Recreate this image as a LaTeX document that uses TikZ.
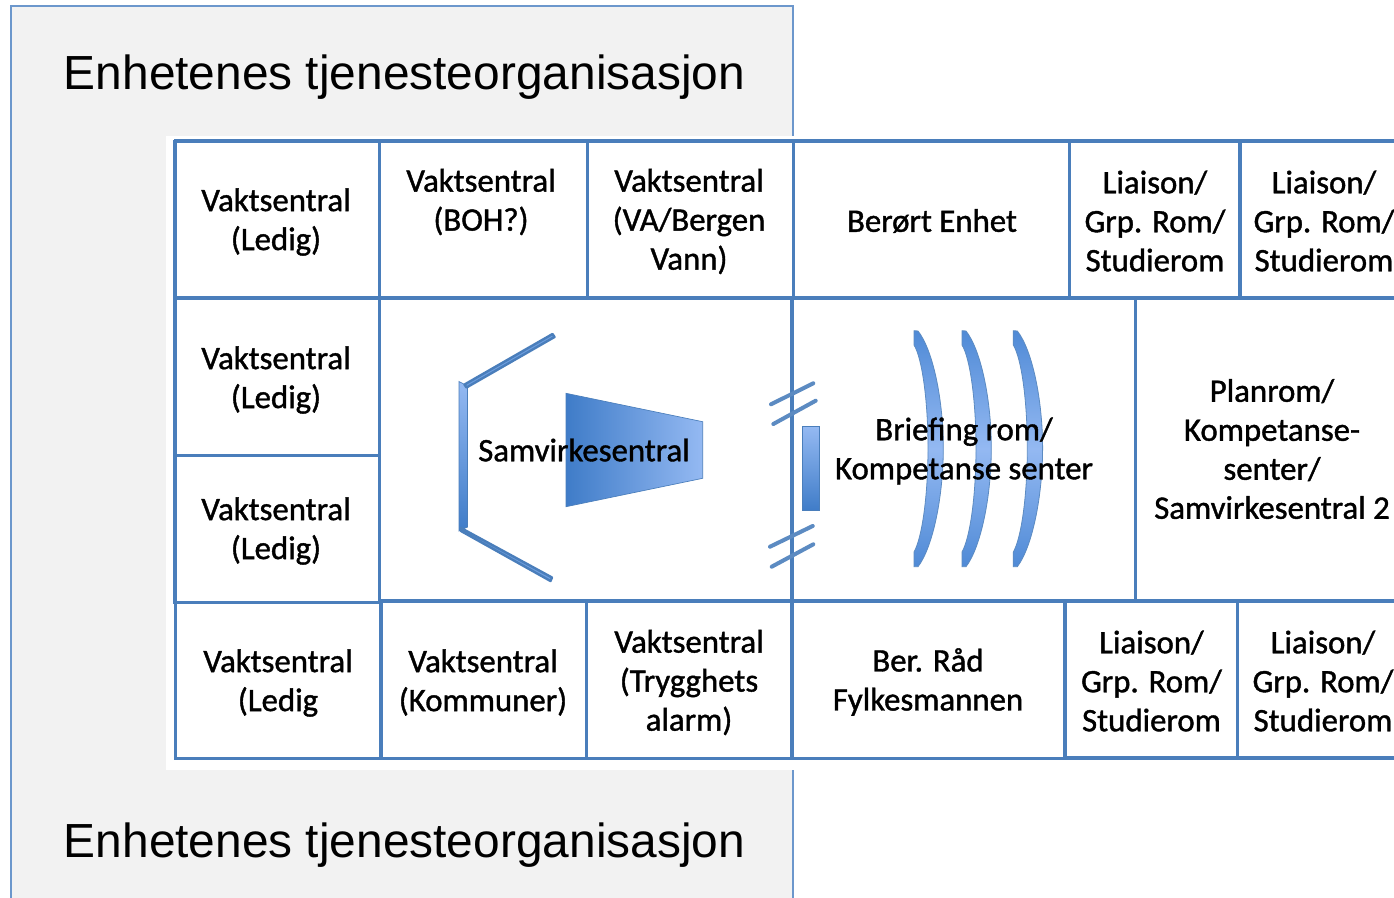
\documentclass[tikz,border=0pt]{standalone}
\usepackage{fontspec}
\setmainfont{Liberation Sans}
\newfontfamily\cellfont[FakeBold=1.2]{Carlito}
\definecolor{gridblue}{HTML}{4A7EBB}
\definecolor{panelblue}{HTML}{6C97CC}
\definecolor{panelgray}{HTML}{F2F2F2}
\definecolor{shadedark}{HTML}{3F7CC8}
\definecolor{shadelight}{HTML}{94B9F2}
\definecolor{armblue}{HTML}{6F9FE0}
\definecolor{lensdark}{HTML}{4F8AD6}
\tikzset{
  thickgrid/.style={draw=gridblue,line width=3pt},
  midgrid/.style={draw=gridblue,line width=2.25pt},
  celltext/.style={font=\cellfont\fontsize{24.6}{29.25}\selectfont,align=center,inner sep=0pt,text=black},
  titletext/.style={font=\fontsize{35.9}{40}\selectfont,inner sep=0pt,text=black},
  slash/.style={draw=gridblue!90!white,line width=3pt,line cap=round},
  vshade/.style={top color=shadelight,bottom color=shadedark,draw=gridblue,line width=0.5pt},
  hshade/.style={left color=shadedark,right color=shadelight,draw=gridblue,line width=0.5pt},
  arm/.style={fill=armblue,draw=gridblue,line width=1.8pt,line join=round},
  lens/.style={top color=lensdark,bottom color=lensdark,middle color=shadelight,draw=gridblue!90!white,line width=0.6pt}
}
\begin{document}
\begin{tikzpicture}[x=0.75pt,y=-0.75pt]
\useasboundingbox (0,0) rectangle (1394,897);
\clip (0,0) rectangle (1394,897);
% panel
\path[fill=panelgray,draw=panelblue,line width=1.5pt] (11,5.5) rectangle (793,905);
\fill[white] (166,136) rectangle (1400,770);
% horizontal grid lines
\draw[thickgrid] (174,141) -- (1394,141);
\draw[thickgrid] (174,298) -- (1394,298);
\draw[midgrid] (175,455) -- (379,455);
\draw[midgrid] (173,602.5) -- (380,602.5);
\draw[thickgrid] (380,601) -- (1394,601);
\draw[midgrid] (174,758) -- (1065,758);
\draw[thickgrid] (1065,758) -- (1394,758);
% vertical grid lines
\draw[thickgrid] (175,139.5) -- (175,604);
\draw[midgrid] (175,602) -- (175,759);
\draw[midgrid] (379,141) -- (379,602);
\draw[midgrid] (587,141) -- (587,298);
\draw[midgrid] (793,141) -- (793,298);
\draw[midgrid] (1069.5,141) -- (1069.5,298);
\draw[thickgrid] (1240,141) -- (1240,298);
\draw[thickgrid] (792,298) -- (792,603);
\draw[midgrid] (1135.5,298) -- (1135.5,601);
\draw[thickgrid] (381,601) -- (381,759);
\draw[midgrid] (586,601) -- (586,758);
\draw[thickgrid] (791.5,601) -- (791.5,759);
\draw[thickgrid] (1065,601) -- (1065,759.5);
\draw[midgrid] (1237,601) -- (1237,759);
% bracket
\path[vshade] (459,381.5) -- (467.5,386) -- (467.5,527) -- (459,531) -- cycle;
\path[arm] (464.5,384.5) -- (552.5,334) -- (554.5,337) -- (466.5,387.5) -- cycle;
\path[arm] (461,528) -- (552,577.5) -- (550.5,581) -- (461,531) -- cycle;
% trapezoid
\path[hshade] (566,393.3) -- (702.7,421.7) -- (702.7,478.3) -- (566,506.7) -- cycle;
% slashes
\draw[slash] (771,404.3) -- (813.3,383.3);
\draw[slash] (773.3,424) -- (815.7,400.7);
\draw[slash] (770,546.7) -- (812.7,526);
\draw[slash] (771.7,566.7) -- (813.3,544.3);
% small bar
\path[vshade] (802.7,426.7) rectangle (819.7,510.7);
% lenses
\foreach \dx in {0,48,99.3}{
  \path[lens,shift={(\dx,0)}] (914,330.7) -- (918,331)
    .. controls (933,350) and (943.3,400) .. (943.3,448)
    .. controls (943.3,496) and (933,547) .. (918,566.7)
    -- (914,566.7) -- (914,552)
    .. controls (922,538) and (928,496) .. (928,448)
    .. controls (928,400) and (922,358) .. (914,345) -- cycle;
}
% titles
\node[titletext] (title1) at (404.5,77) {Enhetenes tjenesteorganisasjon};
\node[titletext] (title2) at (404.5,845) {Enhetenes tjenesteorganisasjon};
% cells
\node[celltext] (a1) at (276,222) {Vaktsentral\\(Ledig)};
\node[celltext] (a2) at (481,202) {Vaktsentral\\(BOH?)};
\node[celltext] (a3) at (689,221.5) {Vaktsentral\\(VA/Bergen\\Vann)};
\node[celltext] (a4) at (932,221) {Berørt Enhet};
\node[celltext] (a5) at (1155,221) {Liaison/\\Grp. Rom/\\Studierom};
\node[celltext] (a6) at (1324,221) {Liaison/\\Grp. Rom/\\Studierom};
\node[celltext] (b1) at (276,380) {Vaktsentral\\(Ledig)};
\node[celltext] (b2) at (276,531) {Vaktsentral\\(Ledig)};
\node[celltext] (b3) at (584,450) {Samvirkesentral};
\node[celltext] (b4) at (964,451) {Briefing rom/\\Kompetanse senter};
\node[celltext] (b5) at (1272,449) {Planrom/\\Kompetanse-\\senter/\\Samvirkesentral 2};
\node[celltext] (c1) at (278,683) {Vaktsentral\\(Ledig};
\node[celltext] (c2) at (483,682.5) {Vaktsentral\\(Kommuner)};
\node[celltext] (c3) at (689,682.5) {Vaktsentral\\(Trygghets\\alarm)};
\node[celltext] (c4) at (928,682) {Ber. Råd\\Fylkesmannen};
\node[celltext] (c5) at (1151.5,681) {Liaison/\\Grp. Rom/\\Studierom};
\node[celltext] (c6) at (1323,681) {Liaison/\\Grp. Rom/\\Studierom};
\end{tikzpicture}
\end{document}
